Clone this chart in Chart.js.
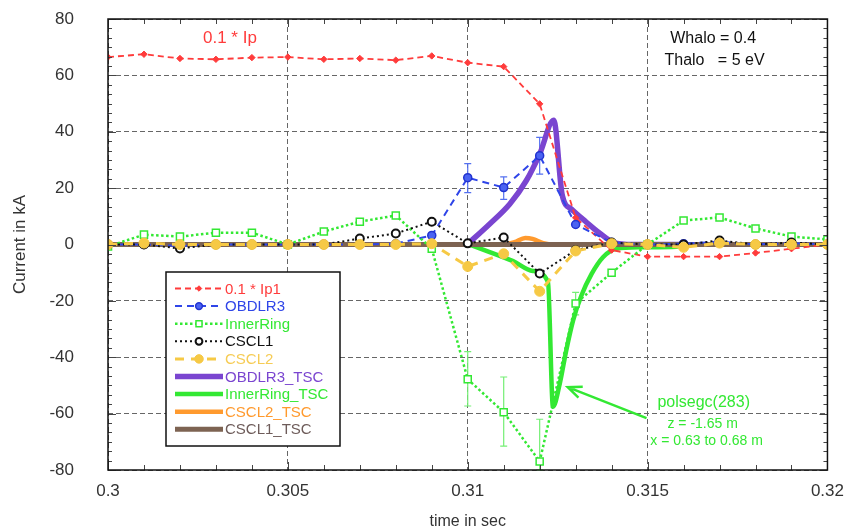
<!DOCTYPE html>
<html>
<head>
<meta charset="utf-8">
<script src="https://cdn.jsdelivr.net/npm/chart.js@4.4.1/dist/chart.umd.min.js"></script>
<style>
  html, body { margin: 0; padding: 0; background: #fff; }
  #wrap { width: 844px; height: 532px; }
</style>
</head>
<body>
<div id="wrap"><canvas id="chart" width="844" height="532"></canvas></div>
<script>
// sample times (s) of the measured signals
const times = [0.300, 0.301, 0.302, 0.303, 0.304, 0.305, 0.306, 0.307, 0.308, 0.309, 0.310,
               0.311, 0.312, 0.313, 0.314, 0.315, 0.316, 0.317, 0.318, 0.319, 0.320];

// measured currents in kA
const ip01      = [66.5, 67.5, 66, 65.7, 66.3, 66.5, 65.7, 66, 65.4, 66.9, 64.5,
                   63.1, 49.9, 9.5, -2, -4.3, -4.3, -4.3, -3, -1.5, 0];
const obdlr3    = [0, 0, -0.5, 0, 0, 0, 0, 0, 0.3, 3.2, 23.7,
                   20.2, 31.5, 7.1, 0.7, 0, 0.3, 1, 0, 0.5, 0];
const innerRing = [-0.7, 3.5, 2.8, 4.2, 4.2, 0, 4.6, 8.1, 10.3, -1.5, -47.8,
                   -59.5, -77, -20.9, -10, 0, 8.5, 9.6, 5.7, 2.8, 1.8];
const cscl1     = [0, 0, -1.4, 0, 0, 0, 0, 2.1, 3.9, 8.1, 0.4,
                   2.5, -10.3, -2, 0.7, 0, 0, 1.4, 0, 0.7, 0];
const cscl2     = [0, 0.5, 0, 0, 0, 0, 0, 0, 0, 0.3, -7.8,
                   -3.3, -16.6, -2.3, 0.3, 0, -1, 0.5, 0, 0, 0];

// error bars (low / high), null where none is drawn
const obdlr3Lo = [null, null, null, null, null, null, null, null, null, null, 18.4,
                  16, 25, null, null, null, null, null, null, null, null];
const obdlr3Hi = [null, null, null, null, null, null, null, null, null, null, 28.7,
                  24, 38, null, null, null, null, null, null, null, null];
const innerLo  = [null, null, null, null, null, null, null, null, null, null, -57.3,
                  -71.5, -80, -25, null, null, null, null, null, null, null];
const innerHi  = [null, null, null, null, null, null, null, null, null, null, -38,
                  -47, -62, -17, null, null, null, null, null, null, null];

// TSC simulation curves
const obdlrTscT = [0.3100, 0.31061, 0.31117, 0.31163, 0.3120, 0.31239, 0.31263, 0.31288,
                   0.3133, 0.31367, 0.31404, 0.31459, 0.3160];
const obdlrTscV = [0.2, 7.3, 14.4, 22.7, 32.1, 44.1, 17.3, 12.6, 7.9, 4.0, 0.8, 0, 0];
const innerTscT = [0.3100, 0.31061, 0.31126, 0.31181, 0.31223, 0.31237, 0.31256, 0.31274,
                   0.31293, 0.31316, 0.31344, 0.31376, 0.31413, 0.3148, 0.3158, 0.3162];
const innerTscV = [0.2, -2.7, -5.9, -9.4, -13.3, -57.6, -49.3, -37.5,
                   -26.9, -18.1, -10.5, -4.5, -1.5, -1, -0.8, 0];
const cscl2TscT = [0.3000, 0.3110, 0.3113, 0.3116, 0.3118, 0.3121, 0.3124, 0.3200];
const cscl2TscV = [0, 0, 0.8, 2.3, 2.0, 0.5, 0, 0];
const cscl1TscT = [0.300, 0.305, 0.310, 0.315, 0.320];
const cscl1TscV = [0, 0, 0, 0, 0];

const xTickValues = [0.300, 0.305, 0.310, 0.315, 0.320];
const xTickLabels = ['0.3', '0.305', '0.31', '0.315', '0.32'];
const yTickValues = [-80, -60, -40, -20, 0, 20, 40, 60, 80];

const FONT = '"Liberation Sans", Arial, Helvetica, sans-serif';
const GREEN = '#33e833';

const pts = (xs, ys) => xs.map((t, i) => ({ x: t, y: ys[i] }));

// error bars drawn under the markers
const errorBars = {
    id: 'errorBars',
    beforeDatasetsDraw(chart) {
        const { ctx, scales: { x, y } } = chart;
        [[obdlr3Lo, obdlr3Hi, '#5470f0'], [innerLo, innerHi, '#74ef74']].forEach(([lo, hi, col]) => {
            ctx.save();
            ctx.strokeStyle = col;
            ctx.lineWidth = 1.2;
            times.forEach((t, i) => {
                if (lo[i] == null) return;
                const px = x.getPixelForValue(t);
                const y1 = y.getPixelForValue(lo[i]);
                const y2 = y.getPixelForValue(hi[i]);
                ctx.beginPath();
                ctx.moveTo(px, y1); ctx.lineTo(px, y2);
                ctx.moveTo(px - 3.5, y1); ctx.lineTo(px + 3.5, y1);
                ctx.moveTo(px - 3.5, y2); ctx.lineTo(px + 3.5, y2);
                ctx.stroke();
            });
            ctx.restore();
        });
    }
};

// frame, minor ticks, legend box and notes
const decorations = {
    id: 'decorations',
    afterDraw(chart) {
        const { ctx, chartArea: a, scales: { x, y } } = chart;
        ctx.save();
        // ticks on all four sides
        ctx.strokeStyle = '#444';
        ctx.lineWidth = 1;
        ctx.beginPath();
        for (let i = 0; i <= 20; i++) {
            const px = Math.round(x.getPixelForValue(0.3 + i * 0.001)) + 0.5;
            const len = i % 5 === 0 ? 8 : 5;
            ctx.moveTo(px, a.bottom); ctx.lineTo(px, a.bottom - len);
            ctx.moveTo(px, a.top); ctx.lineTo(px, a.top + len);
        }
        for (let i = 0; i <= 48; i++) {
            const py = Math.round(y.getPixelForValue(-80 + i * 20 / 6)) + 0.5;
            const len = i % 6 === 0 ? 8 : 4;
            ctx.moveTo(a.left, py); ctx.lineTo(a.left + len, py);
            ctx.moveTo(a.right, py); ctx.lineTo(a.right - len, py);
        }
        ctx.stroke();
        ctx.strokeStyle = '#111';
        ctx.lineWidth = 1.5;
        ctx.strokeRect(a.left, a.top, a.right - a.left, a.bottom - a.top);

        // legend
        const lx = 166, ly = 272, lw = 174, lh = 174;
        ctx.fillStyle = '#fff';
        ctx.fillRect(lx, ly, lw, lh);
        ctx.strokeStyle = '#111';
        ctx.lineWidth = 1.5;
        ctx.strokeRect(lx, ly, lw, lh);
        ctx.font = '15px ' + FONT;
        ctx.textBaseline = 'middle';
        ctx.textAlign = 'left';
        chart.data.datasets.forEach((ds, i) => {
            const cy = 288.5 + i * 17.6;
            ctx.save();
            ctx.strokeStyle = ds.borderColor;
            ctx.lineWidth = ds.borderWidth;
            ctx.setLineDash(ds.borderDash || []);
            ctx.beginPath();
            ctx.moveTo(175, cy); ctx.lineTo(223, cy);
            ctx.stroke();
            ctx.setLineDash([]);
            if (ds.pointRadius > 0) {
                ctx.fillStyle = ds.pointBackgroundColor;
                ctx.strokeStyle = ds.pointBorderColor;
                ctx.lineWidth = ds.pointBorderWidth;
                Chart.helpers.drawPoint(ctx, {
                    pointStyle: ds.pointStyle, rotation: 0,
                    radius: ds.pointRadius * 0.85, borderWidth: ds.pointBorderWidth
                }, 199, cy);
            }
            ctx.restore();
            ctx.fillStyle = ds.labelColor;
            ctx.fillText(ds.label, 225, cy + 1);
        });

        // notes inside the plot
        const at = (t, v) => [x.getPixelForValue(t), y.getPixelForValue(v)];
        ctx.textAlign = 'center';
        ctx.fillStyle = '#ff3b3b';
        ctx.font = '17px ' + FONT;
        ctx.fillText('0.1 * Ip', ...at(0.30339, 73.3));
        ctx.fillStyle = '#111';
        ctx.font = '16px ' + FONT;
        ctx.textAlign = 'left';
        let p = at(0.31563, 72.9);
        ctx.fillText('Whalo = 0.4', p[0], p[1]);
        p = at(0.31547, 65.4);
        ctx.fillText('Thalo   = 5 eV', p[0], p[1]);
        ctx.textAlign = 'center';
        ctx.fillStyle = GREEN;
        ctx.font = '16px ' + FONT;
        ctx.fillText('polsegc(283)', ...at(0.31656, -56.2));
        ctx.font = '14px ' + FONT;
        ctx.fillText('z = -1.65 m', ...at(0.31653, -63.7));
        ctx.fillText('x = 0.63 to 0.68 m', ...at(0.31664, -69.7));

        // arrow to the InnerRing_TSC dip
        const [x0, y0] = at(0.31497, -61.6);
        const [x1, y1] = at(0.31278, -50.6);
        const ang = Math.atan2(y1 - y0, x1 - x0);
        ctx.strokeStyle = GREEN;
        ctx.lineWidth = 2.5;
        ctx.beginPath();
        ctx.moveTo(x0, y0); ctx.lineTo(x1, y1);
        ctx.moveTo(x1 - 15 * Math.cos(ang - 0.4), y1 - 15 * Math.sin(ang - 0.4));
        ctx.lineTo(x1, y1);
        ctx.lineTo(x1 - 15 * Math.cos(ang + 0.4), y1 - 15 * Math.sin(ang + 0.4));
        ctx.stroke();
        ctx.restore();
    }
};

new Chart(document.getElementById('chart'), {
    type: 'line',
    data: {
        datasets: [
            {
                label: '0.1 * Ip1', data: pts(times, ip01), order: 5, labelColor: '#ff3b3b',
                borderColor: '#ff3b3b', borderWidth: 1.8, borderDash: [6, 4],
                pointStyle: 'rectRot', pointRadius: 3.2, pointBackgroundColor: '#ff3b3b',
                pointBorderColor: '#ff3b3b', pointBorderWidth: 1
            },
            {
                label: 'OBDLR3', data: pts(times, obdlr3), order: 4, labelColor: '#2f45e8',
                borderColor: '#2f45e8', borderWidth: 2, borderDash: [7, 5],
                pointStyle: 'circle', pointRadius: 4, pointBackgroundColor: '#4a63f2',
                pointBorderColor: '#2233d0', pointBorderWidth: 1.5
            },
            {
                label: 'InnerRing', data: pts(times, innerRing), order: 3, labelColor: GREEN,
                borderColor: GREEN, borderWidth: 2.5, borderDash: [2.5, 2.5],
                pointStyle: 'rect', pointRadius: 5, pointBackgroundColor: '#fff',
                pointBorderColor: GREEN, pointBorderWidth: 1.5
            },
            {
                label: 'CSCL1', data: pts(times, cscl1), order: 2, labelColor: '#111',
                borderColor: '#111', borderWidth: 2, borderDash: [2, 3],
                pointStyle: 'circle', pointRadius: 4, pointBackgroundColor: '#fff',
                pointBorderColor: '#111', pointBorderWidth: 2
            },
            {
                label: 'CSCL2', data: pts(times, cscl2), order: 1, labelColor: '#f6cc55',
                borderColor: '#f6c945', borderWidth: 3, borderDash: [9, 7],
                pointStyle: 'circle', pointRadius: 5, pointBackgroundColor: '#f6c945',
                pointBorderColor: '#f6c945', pointBorderWidth: 1
            },
            {
                label: 'OBDLR3_TSC', data: pts(obdlrTscT, obdlrTscV), order: 9, labelColor: '#7a45d0',
                borderColor: '#7a45d0', borderWidth: 5.5, pointRadius: 0,
                cubicInterpolationMode: 'monotone'
            },
            {
                label: 'InnerRing_TSC', data: pts(innerTscT, innerTscV), order: 8, labelColor: GREEN,
                borderColor: GREEN, borderWidth: 4.5, pointRadius: 0,
                cubicInterpolationMode: 'monotone'
            },
            {
                label: 'CSCL2_TSC', data: pts(cscl2TscT, cscl2TscV), order: 7, labelColor: '#ff9a2e',
                borderColor: '#ff9a2e', borderWidth: 4.5, pointRadius: 0,
                cubicInterpolationMode: 'monotone'
            },
            {
                label: 'CSCL1_TSC', data: pts(cscl1TscT, cscl1TscV), order: 6, labelColor: '#6e5c5a',
                borderColor: '#7d6352', borderWidth: 5, pointRadius: 0
            }
        ]
    },
    options: {
        responsive: false,
        devicePixelRatio: 1,
        animation: false,
        layout: { padding: { top: 19, right: 16, left: 0, bottom: 0 } },
        plugins: { legend: { display: false }, tooltip: { enabled: false } },
        scales: {
            x: {
                type: 'linear', min: 0.3, max: 0.32,
                afterFit: s => { s.height = 62; },
                afterBuildTicks: s => { s.ticks = xTickValues.map(v => ({ value: v })); },
                ticks: {
                    callback: (v, i) => xTickLabels[i],
                    font: { family: FONT, size: 17 }, color: '#333', padding: 0,
                    maxRotation: 0, autoSkip: false
                },
                grid: { color: '#666', lineWidth: 1, drawTicks: true, tickLength: 11, tickColor: 'rgba(0,0,0,0)' },
                border: { display: false, dash: [5, 3] },
                title: {
                    display: true, text: 'time in sec', color: '#333',
                    font: { family: FONT, size: 16 }, padding: { top: 0, bottom: 1 }
                }
            },
            y: {
                min: -80, max: 80,
                afterFit: s => { s.width = 108; },
                afterBuildTicks: s => { s.ticks = yTickValues.map(v => ({ value: v })); },
                ticks: {
                    font: { family: FONT, size: 17 }, color: '#333', padding: 1, autoSkip: false
                },
                grid: { color: '#666', lineWidth: 1, drawTicks: true, tickLength: 33, tickColor: 'rgba(0,0,0,0)' },
                border: { display: false, dash: [5, 3] },
                title: {
                    display: true, text: 'Current in kA', color: '#333',
                    font: { family: FONT, size: 17 }, padding: { top: 10, bottom: 0 }
                }
            }
        }
    },
    plugins: [errorBars, decorations]
});
</script>
</body>
</html>
